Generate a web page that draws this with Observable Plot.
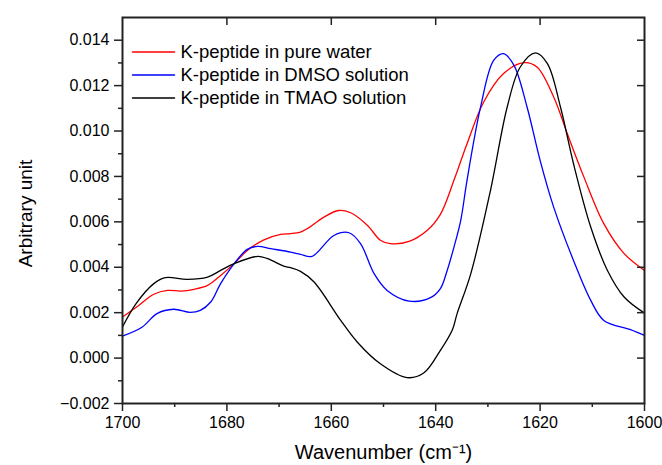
<!DOCTYPE html>
<html><head><meta charset="utf-8">
<script src="https://cdn.jsdelivr.net/npm/d3@7"></script>
<script src="https://cdn.jsdelivr.net/npm/@observablehq/plot@0.6"></script>
<style>body{margin:0;background:#fff;font-family:"Liberation Sans",Arial,sans-serif}</style>
</head><body><div id="chart"></div>
<script>
const seriesNames = ["K-peptide in pure water", "K-peptide in DMSO solution", "K-peptide in TMAO solution"];
const seriesColors = ["#ff0000", "#0000ff", "#000000"];

const waterX = [1700,1696.9,1694.0,1691.4,1688.8,1686.3,1683.7,1681.2,1678.6,1676.1,1672.9,1669.7,1667.8,1665.9,1664.6,1661.4,1658.6,1656.3,1653.1,1650.6,1648.7,1645.1,1641.6,1639.1,1636.5,1634.0,1630.8,1627.0,1623.1,1620.6,1617.4,1614.8,1611.6,1607.8,1603.9,1600];
const waterY = [0.00181,0.00232,0.00281,0.00298,0.00295,0.00303,0.00320,0.00364,0.00416,0.00474,0.00521,0.00545,0.00548,0.00555,0.00570,0.00621,0.00650,0.00640,0.00585,0.00519,0.00504,0.00514,0.00563,0.00633,0.00783,0.00944,0.01128,0.01253,0.01301,0.01282,0.01150,0.00989,0.00797,0.00592,0.00460,0.00386];

const dmsoX = [1700,1696.2,1693.4,1690.2,1687.0,1685.1,1683.1,1681.2,1678.6,1676.1,1674.1,1671.6,1667.8,1665.9,1663.7,1659.5,1656.6,1654.4,1651.8,1649.3,1645.1,1641.0,1639.1,1637.8,1636.5,1635.2,1634.0,1631.4,1628.9,1627.0,1625.0,1622.5,1620.0,1617.4,1613.6,1610.3,1607.8,1602.7,1600];
const dmsoY = [0.00097,0.00137,0.00196,0.00215,0.00201,0.00210,0.00247,0.00328,0.00416,0.00479,0.00492,0.00482,0.00467,0.00457,0.00448,0.00540,0.00552,0.00504,0.00372,0.00298,0.00251,0.00266,0.00306,0.00386,0.00489,0.00607,0.00783,0.01106,0.01311,0.01341,0.01289,0.01106,0.00871,0.00665,0.00430,0.00254,0.00166,0.00125,0.00100];

const tmaoX = [1700,1697.4,1694.0,1691.8,1687.6,1683.7,1681.2,1678.6,1674.1,1672.2,1669.1,1667.8,1665.9,1663.3,1658.2,1655.0,1650.6,1645.5,1642.3,1639.1,1636.8,1635.9,1633.3,1629.5,1626.3,1623.8,1620.9,1618.6,1616.1,1613.6,1610.3,1607.1,1603.9,1600];
const tmaoY = [0.00137,0.00240,0.00328,0.00354,0.00347,0.00357,0.00386,0.00416,0.00448,0.00438,0.00405,0.00398,0.00382,0.00335,0.00166,0.00070,-0.00025,-0.00086,-0.00066,0.00034,0.00125,0.00196,0.00370,0.00739,0.01106,0.01282,0.01344,0.01297,0.01106,0.00856,0.00577,0.00386,0.00269,0.00198];

const xMajor = [1700,1680,1660,1640,1620,1600];
const xMinor = [1690,1670,1650,1630,1610];
const yMajor = [-0.002,0,0.002,0.004,0.006,0.008,0.010,0.012,0.014];
const yMinor = [-0.001,0.001,0.003,0.005,0.007,0.009,0.011,0.013];

const xLabel = "Wavenumber (cm⁻¹)";
const yLabel = "Arbitrary unit";

const rows = [];
[[waterX, waterY], [dmsoX, dmsoY], [tmaoX, tmaoY]].forEach(([xs, ys], k) => {
  xs.forEach((x, i) => rows.push({series: seriesNames[k], x, y: ys[i]}));
});

const axisColor = "#222";
const fmtY = d3.format(".3f");
const legendRowDy = [34.5, 57.5, 80.5];
const lineShape = {draw(context, l) { context.moveTo(0, 0); context.lineTo(0, -l); }};

const legendMarks = [];
seriesNames.forEach((name, i) => {
  legendMarks.push(Plot.vector([name], {frameAnchor: "top-left", dx: 10, dy: legendRowDy[i], rotate: 90, length: 42, anchor: "start", shape: lineShape, stroke: seriesColors[i], strokeWidth: 1.5}));
  legendMarks.push(Plot.text([name], {frameAnchor: "top-left", dx: 58, dy: legendRowDy[i], text: d => d, textAnchor: "start", lineAnchor: "middle", fontSize: 18.5, fill: "#000"}));
});

const chart = Plot.plot({
  width: 662, height: 465,
  marginLeft: 122, marginRight: 18, marginTop: 17, marginBottom: 62,
  style: {fontFamily: '"Liberation Sans", Arial, sans-serif', background: "#fff"},
  x: {domain: [1700, 1600]},
  y: {domain: [-0.002, 0.015]},
  color: {domain: seriesNames, range: seriesColors},
  marks: [
    Plot.line(rows, {x: "x", y: "y", z: "series", stroke: "series", curve: "catmull-rom", strokeWidth: 1.3}),
    Plot.axisX(xMajor, {anchor: "bottom", tickSize: 8, tickPadding: 5, tickFormat: d => String(d), fontSize: 16, fill: "#000", stroke: axisColor, strokeWidth: 1.5, label: null}),
    Plot.axisX(xMinor, {anchor: "bottom", tickSize: 4, tickFormat: () => "", stroke: axisColor, strokeWidth: 1.5, label: null}),
    Plot.axisX(xMajor.slice(1, -1), {anchor: "top", tickSize: -7, tickFormat: () => "", stroke: axisColor, strokeWidth: 1.5, label: null}),
    Plot.axisY(yMajor, {anchor: "left", tickSize: 8, tickPadding: 5, tickFormat: fmtY, fontSize: 16, fill: "#000", stroke: axisColor, strokeWidth: 1.5, label: null}),
    Plot.axisY(yMinor, {anchor: "left", tickSize: 4, tickFormat: () => "", stroke: axisColor, strokeWidth: 1.5, label: null}),
    Plot.axisY(yMajor.slice(1), {anchor: "right", tickSize: -8, tickFormat: () => "", stroke: axisColor, strokeWidth: 1.5, label: null}),
    Plot.frame({stroke: axisColor, strokeWidth: 2}),
    Plot.text([xLabel], {frameAnchor: "bottom", dy: 49.5, text: d => d, textAnchor: "middle", lineAnchor: "middle", fontSize: 20, fill: "#000"}),
    Plot.text([yLabel], {frameAnchor: "left", dx: -97, dy: 3, rotate: -90, text: d => d, textAnchor: "middle", lineAnchor: "middle", fontSize: 19, fill: "#000"}),
    ...legendMarks
  ]
});
document.getElementById("chart").appendChild(chart);
</script></body></html>
